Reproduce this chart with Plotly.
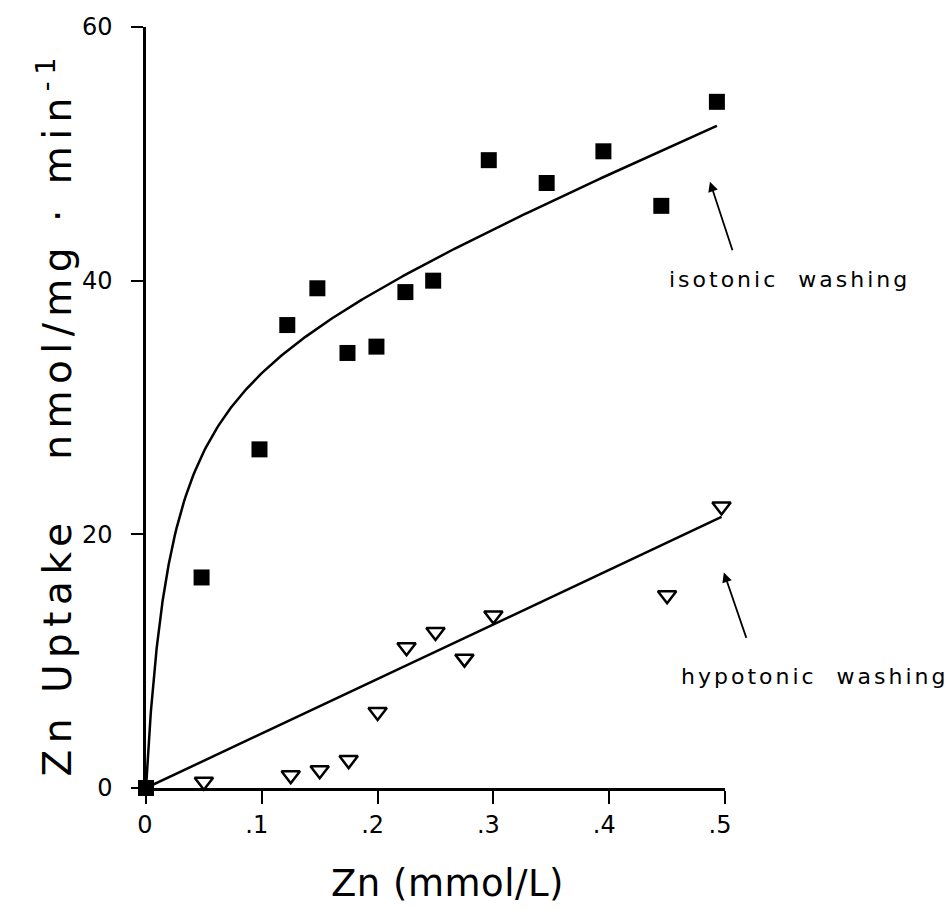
import numpy as np
import plotly.graph_objects as go

# Zn uptake measured after isotonic washing (filled squares)
iso_zn = [0.0, 0.048, 0.098, 0.122, 0.148, 0.174, 0.199, 0.224, 0.248, 0.296, 0.346, 0.395, 0.445, 0.493]
iso_uptake = [0.0, 16.6, 26.7, 36.5, 39.4, 34.3, 34.8, 39.1, 40.0, 49.5, 47.7, 50.2, 45.9, 54.1]

# Zn uptake measured after hypotonic washing (open triangles)
hypo_zn = [0.05, 0.125, 0.15, 0.175, 0.2, 0.225, 0.25, 0.275, 0.3, 0.45, 0.497]
hypo_uptake = [0.5, 1.0, 1.4, 2.2, 6.0, 11.1, 12.3, 10.2, 13.6, 15.2, 22.2]

# Fitted kinetics: saturable (Michaelis-Menten) + linear component; linear fit for hypotonic
vmax, km, k_lin = 35.0, 0.021, 37.8
hypo_slope = 43.0

x_ticks = [0, 0.1, 0.2, 0.3, 0.4, 0.5]
x_ticktext = ["&nbsp;0", ".1", ".2", ".3", ".4", ".5"]
y_ticks = [0, 20, 40, 60]

FONT = "DejaVu Sans"

xf = np.concatenate([np.linspace(0, 0.02, 80), np.linspace(0.02, iso_zn[-1], 300)])
yf = vmax * xf / (km + xf) + k_lin * xf
xl = np.array([0.0, hypo_zn[-1]])
yl = hypo_slope * xl

fig = go.Figure()
fig.add_trace(go.Scatter(x=xf, y=yf, mode="lines", line=dict(color="black", width=2.5),
                         hoverinfo="skip", showlegend=False, cliponaxis=False))
fig.add_trace(go.Scatter(x=xl, y=yl, mode="lines", line=dict(color="black", width=2.5),
                         hoverinfo="skip", showlegend=False, cliponaxis=False))
fig.add_trace(go.Scatter(x=hypo_zn, y=hypo_uptake, mode="markers", showlegend=False,
                         cliponaxis=False,
                         marker=dict(symbol="triangle-down-open", size=16, color="black",
                                     line=dict(width=2.5, color="black"))))
fig.add_trace(go.Scatter(x=iso_zn, y=iso_uptake, mode="markers", showlegend=False,
                         cliponaxis=False,
                         marker=dict(symbol="square", size=16, color="black",
                                     line=dict(width=0))))


def spaced(txt, ls):
    return f'<span style="letter-spacing:{ls}px">{txt}</span>'


annotations = [
    # axis titles
    dict(text=spaced("Zn (mmol/L)", 0.5), xref="paper", yref="paper", x=0.52, y=-0.125,
         xanchor="center", yanchor="middle", showarrow=False,
         font=dict(family=FONT, size=37, color="black")),
    dict(text=spaced("Zn Uptake&nbsp;&nbsp;&nbsp;nmol/mg&nbsp;·&nbsp;min<sup>-1</sup>", 6.5),
         xref="paper", yref="paper", x=-0.157, y=0.491, textangle=-90,
         xanchor="center", yanchor="middle", showarrow=False,
         font=dict(family=FONT, size=39, color="black")),
    # labels with arrows
    dict(text=spaced("isotonic&nbsp;&nbsp;washing", 3), xref="paper", yref="paper",
         x=1.112, y=0.668, xanchor="center", yanchor="middle", showarrow=False,
         font=dict(family=FONT, size=22, color="black")),
    dict(x=0.487, y=47.8, xref="x", yref="y", text="", showarrow=True, ax=23, ay=70,
         arrowhead=2, arrowsize=1.1, arrowwidth=1.8, arrowcolor="black"),
    dict(text=spaced("hypotonic&nbsp;&nbsp;washing", 3), xref="paper", yref="paper",
         x=1.155, y=0.146, xanchor="center", yanchor="middle", showarrow=False,
         font=dict(family=FONT, size=22, color="black")),
    dict(x=0.499, y=17.0, xref="x", yref="y", text="", showarrow=True, ax=23, ay=67,
         arrowhead=2, arrowsize=1.1, arrowwidth=1.8, arrowcolor="black"),
]

fig.update_layout(
    width=950, height=909,
    margin=dict(l=146, r=225, t=27, b=121),
    paper_bgcolor="white", plot_bgcolor="white",
    font=dict(family=FONT, color="black"),
    annotations=annotations,
    xaxis=dict(range=[0, 0.5], tickvals=x_ticks, ticktext=x_ticktext,
               ticks="outside", ticklen=13, tickwidth=2, tickcolor="black",
               showline=True, linewidth=2.5, linecolor="black",
               showgrid=False, zeroline=False, ticklabelstandoff=0, ticklabelshift=-5,
               tickfont=dict(family=FONT, size=24, color="black")),
    yaxis=dict(range=[0, 60], tickvals=y_ticks,
               ticks="outside", ticklen=12, tickwidth=2, tickcolor="black",
               showline=True, linewidth=2.5, linecolor="black",
               showgrid=False, zeroline=False, ticklabelstandoff=14,
               tickfont=dict(family=FONT, size=24, color="black")),
)

fig.write_html("out.html")
